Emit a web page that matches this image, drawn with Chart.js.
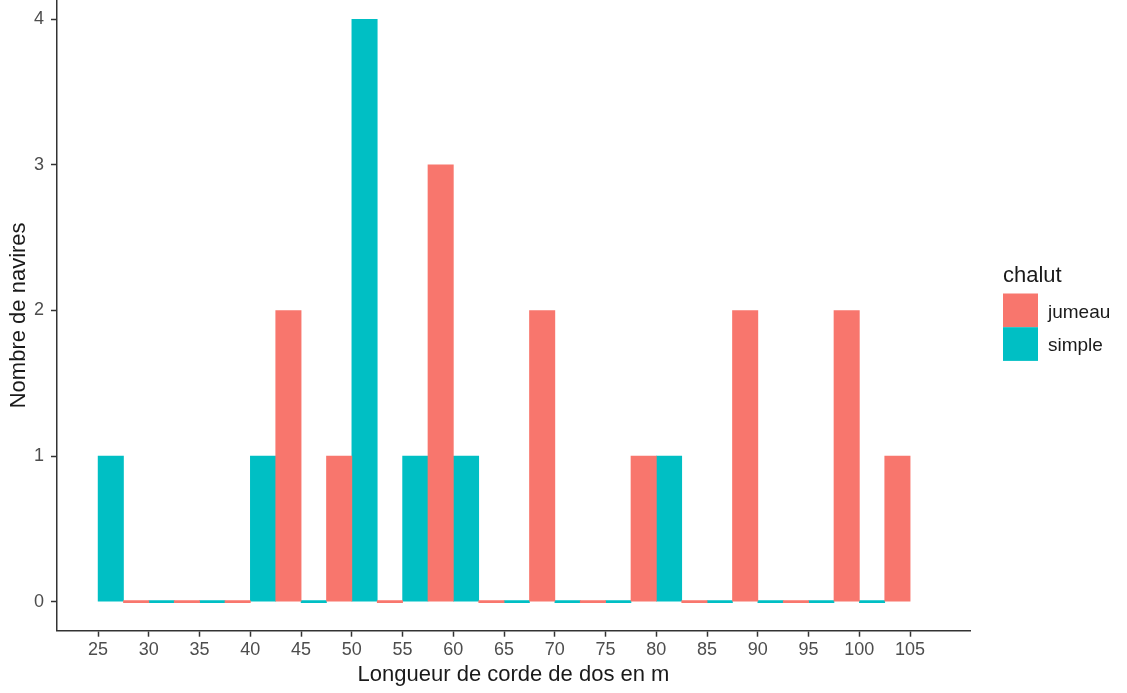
<!DOCTYPE html>
<html>
<head>
<meta charset="utf-8">
<title>Longueur de corde de dos</title>
<script src="https://cdn.jsdelivr.net/npm/chart.js@4.4.1/dist/chart.umd.min.js"></script>
<style>
  html, body { margin: 0; padding: 0; background: #ffffff; }
  #wrap { width: 1127px; height: 693px; position: relative; }
</style>
</head>
<body>
<div id="wrap"><canvas id="chart"></canvas></div>
<script>
// Headline length classes (m) and vessel counts per trawl type
const lengths = [25, 30, 35, 40, 45, 50, 55, 60, 65, 70, 75, 80, 85, 90, 95, 100, 105];
const jumeau  = [null, 0, 0, 0, 2, 1, 0, 3, 0, 2, 0, 1, 0, 2, 0, 2, 1];
const simple  = [1, 0, 0, 1, 0, 4, 1, 1, 0, 0, 0, 1, 0, 0, 0, 0, null];
const yTicks  = [0, 1, 2, 3, 4];

const seriesNames  = ['jumeau', 'simple'];
const seriesColors = ['#F8766D', '#00BFC4'];

const FONT = '"Liberation Sans", Arial, Helvetica, sans-serif';

function toPoints(values) {
  return lengths
    .map((x, i) => ({ x: x, y: values[i] }))
    .filter(p => p.y !== null);
}

// Legend drawn to the right of the panel, ggplot style
const legendBlock = {
  id: 'legendBlock',
  afterDraw(chart, args, opts) {
    const ctx = chart.ctx;
    ctx.save();
    ctx.textAlign = 'left';
    ctx.textBaseline = 'middle';
    ctx.fillStyle = '#1a1a1a';
    ctx.font = '22px ' + FONT;
    ctx.fillText(opts.title, opts.x, opts.titleY);
    chart.data.datasets.forEach((ds, i) => {
      const top = opts.keyTop + i * opts.keyHeight;
      ctx.fillStyle = ds.backgroundColor;
      ctx.fillRect(opts.x, top, opts.keyWidth, opts.keyHeight);
      ctx.fillStyle = '#1a1a1a';
      ctx.font = '19px ' + FONT;
      ctx.fillText(ds.label, opts.x + opts.keyWidth + 10, top + opts.keyHeight / 2 + 2);
    });
    ctx.restore();
  }
};

const axisGrid = {
  display: true,
  drawOnChartArea: false,
  drawTicks: true,
  offset: false,
  tickLength: 6,
  tickColor: '#333333',
  tickWidth: 1.5
};
const axisBorder = { display: true, color: '#333333', width: 1.5 };

new Chart(document.getElementById('chart'), {
  type: 'bar',
  data: {
    datasets: [
      { label: seriesNames[0], data: toPoints(jumeau), backgroundColor: seriesColors[0] },
      { label: seriesNames[1], data: toPoints(simple), backgroundColor: seriesColors[1] }
    ]
  },
  plugins: [legendBlock],
  options: {
    responsive: true,
    maintainAspectRatio: false,
    animation: false,
    layout: { padding: { top: 0, right: 157, bottom: 0, left: 0 } },
    datasets: {
      bar: {
        categoryPercentage: 1,
        barPercentage: 1,
        borderWidth: 0,
        minBarLength: 2
      }
    },
    plugins: {
      legend: { display: false },
      tooltip: { enabled: false },
      legendBlock: {
        title: 'chalut',
        x: 1003,
        titleY: 276,
        keyTop: 293.5,
        keyWidth: 35,
        keyHeight: 33.7
      }
    },
    scales: {
      x: {
        type: 'linear',
        min: 20.95,
        max: 110.9,
        offset: false,
        afterBuildTicks: s => { s.ticks = lengths.map(v => ({ value: v })); },
        afterFit: s => { s.height = 62.3; s.paddingLeft = 0; s.paddingRight = 0; },
        grid: axisGrid,
        border: axisBorder,
        ticks: {
          color: '#4D4D4D',
          font: { family: FONT, size: 18 },
          padding: 3,
          maxRotation: 0,
          autoSkip: false,
          callback: v => String(v)
        },
        title: {
          display: true,
          text: 'Longueur de corde de dos en m',
          color: '#1a1a1a',
          font: { family: FONT, size: 22 },
          padding: { top: 0, bottom: 5 }
        }
      },
      y: {
        type: 'linear',
        min: -0.2,
        max: 4.133,
        afterBuildTicks: s => { s.ticks = yTicks.map(v => ({ value: v })); },
        afterFit: s => { s.width = 57; s.paddingTop = 0; s.paddingBottom = 0; },
        grid: axisGrid,
        border: axisBorder,
        ticks: {
          color: '#4D4D4D',
          font: { family: FONT, size: 18 },
          padding: 7,
          callback: v => String(v)
        },
        title: {
          display: true,
          text: 'Nombre de navires',
          color: '#1a1a1a',
          font: { family: FONT, size: 22 },
          padding: { top: 6, bottom: 0 }
        }
      }
    }
  }
});
</script>
</body>
</html>
